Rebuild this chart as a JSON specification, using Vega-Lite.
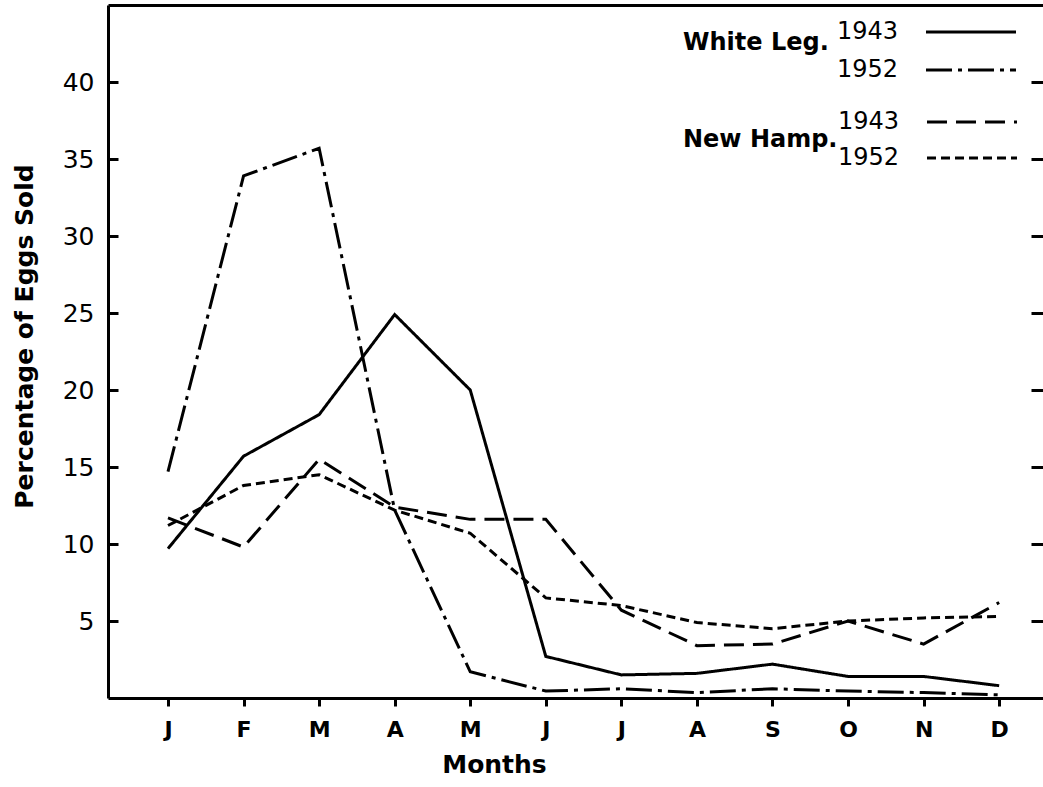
{
  "$schema": "https://vega.github.io/schema/vega-lite/v6.json",
  "width": 935,
  "height": 693,
  "autosize": {"type": "none"},
  "padding": {"left": 108, "top": 5, "right": 0, "bottom": 89},
  "background": "white",
  "config": {
    "view": {"stroke": null},
    "font": "DejaVu Sans",
    "axis": {"grid": false, "domainColor": "black", "tickColor": "black", "labelColor": "black", "titleColor": "black", "domainWidth": 3, "tickWidth": 3}
  },
  "data": {
    "values": [
      {"breed": "White Leg.", "year": "1943", "m": 0, "pct": 9.7},
      {"breed": "White Leg.", "year": "1943", "m": 1, "pct": 15.7},
      {"breed": "White Leg.", "year": "1943", "m": 2, "pct": 18.4},
      {"breed": "White Leg.", "year": "1943", "m": 3, "pct": 24.9},
      {"breed": "White Leg.", "year": "1943", "m": 4, "pct": 20.0},
      {"breed": "White Leg.", "year": "1943", "m": 5, "pct": 2.7},
      {"breed": "White Leg.", "year": "1943", "m": 6, "pct": 1.5},
      {"breed": "White Leg.", "year": "1943", "m": 7, "pct": 1.6},
      {"breed": "White Leg.", "year": "1943", "m": 8, "pct": 2.2},
      {"breed": "White Leg.", "year": "1943", "m": 9, "pct": 1.4},
      {"breed": "White Leg.", "year": "1943", "m": 10, "pct": 1.4},
      {"breed": "White Leg.", "year": "1943", "m": 11, "pct": 0.8},
      {"breed": "White Leg.", "year": "1952", "m": 0, "pct": 14.7},
      {"breed": "White Leg.", "year": "1952", "m": 1, "pct": 33.9},
      {"breed": "White Leg.", "year": "1952", "m": 2, "pct": 35.7},
      {"breed": "White Leg.", "year": "1952", "m": 3, "pct": 12.2},
      {"breed": "White Leg.", "year": "1952", "m": 4, "pct": 1.7},
      {"breed": "White Leg.", "year": "1952", "m": 5, "pct": 0.45},
      {"breed": "White Leg.", "year": "1952", "m": 6, "pct": 0.6},
      {"breed": "White Leg.", "year": "1952", "m": 7, "pct": 0.35},
      {"breed": "White Leg.", "year": "1952", "m": 8, "pct": 0.6},
      {"breed": "White Leg.", "year": "1952", "m": 9, "pct": 0.45},
      {"breed": "White Leg.", "year": "1952", "m": 10, "pct": 0.35},
      {"breed": "White Leg.", "year": "1952", "m": 11, "pct": 0.2},
      {"breed": "New Hamp.", "year": "1943", "m": 0, "pct": 11.7},
      {"breed": "New Hamp.", "year": "1943", "m": 1, "pct": 9.8},
      {"breed": "New Hamp.", "year": "1943", "m": 2, "pct": 15.5},
      {"breed": "New Hamp.", "year": "1943", "m": 3, "pct": 12.4},
      {"breed": "New Hamp.", "year": "1943", "m": 4, "pct": 11.6},
      {"breed": "New Hamp.", "year": "1943", "m": 5, "pct": 11.6},
      {"breed": "New Hamp.", "year": "1943", "m": 6, "pct": 5.7},
      {"breed": "New Hamp.", "year": "1943", "m": 7, "pct": 3.4},
      {"breed": "New Hamp.", "year": "1943", "m": 8, "pct": 3.5},
      {"breed": "New Hamp.", "year": "1943", "m": 9, "pct": 5.0},
      {"breed": "New Hamp.", "year": "1943", "m": 10, "pct": 3.5},
      {"breed": "New Hamp.", "year": "1943", "m": 11, "pct": 6.2},
      {"breed": "New Hamp.", "year": "1952", "m": 0, "pct": 11.2},
      {"breed": "New Hamp.", "year": "1952", "m": 1, "pct": 13.8},
      {"breed": "New Hamp.", "year": "1952", "m": 2, "pct": 14.5},
      {"breed": "New Hamp.", "year": "1952", "m": 3, "pct": 12.2},
      {"breed": "New Hamp.", "year": "1952", "m": 4, "pct": 10.7},
      {"breed": "New Hamp.", "year": "1952", "m": 5, "pct": 6.5},
      {"breed": "New Hamp.", "year": "1952", "m": 6, "pct": 6.0},
      {"breed": "New Hamp.", "year": "1952", "m": 7, "pct": 4.9},
      {"breed": "New Hamp.", "year": "1952", "m": 8, "pct": 4.5},
      {"breed": "New Hamp.", "year": "1952", "m": 9, "pct": 5.0},
      {"breed": "New Hamp.", "year": "1952", "m": 10, "pct": 5.2},
      {"breed": "New Hamp.", "year": "1952", "m": 11, "pct": 5.3}
    ]
  },
  "layer": [
    {
      "transform": [{"filter": "datum.breed === 'White Leg.'"}],
      "mark": {"type": "line", "stroke": "black", "strokeWidth": 3},
      "encoding": {
        "x": {
          "field": "m", "type": "quantitative",
          "scale": {"domain": [-0.794, 11.58], "nice": false, "zero": false},
          "axis": {
            "orient": "bottom", "values": [0, 1, 2, 3, 4, 5, 6, 7, 8, 9, 10, 11],
            "labelExpr": "['J','F','M','A','M','J','J','A','S','O','N','D'][datum.value]",
            "tickSize": 8, "labelFontSize": 22, "labelFontWeight": "bold", "labelPadding": 13, "labelFlush": false,
            "title": "Months", "titleFontSize": 25, "titleFontWeight": "bold", "titlePadding": 12, "titleX": 386
          }
        },
        "y": {
          "field": "pct", "type": "quantitative",
          "scale": {"domain": [0, 45], "nice": false},
          "axis": {
            "orient": "left", "values": [5, 10, 15, 20, 25, 30, 35, 40],
            "tickSize": -10, "labelPadding": 24, "labelFontSize": 25,
            "title": "Percentage of Eggs Sold", "titleFontSize": 25, "titleFontWeight": "bold",
            "titleX": -84, "titleY": 331, "titleBaseline": "middle"
          }
        },
        "strokeDash": {
          "field": "year", "type": "nominal",
          "scale": {"domain": ["1943", "1952"], "range": [[1, 0], [26, 6, 4, 6]]},
          "legend": {
            "title": ["White Leg.", ""], "orient": "none", "legendX": 575, "legendY": 15, "direction": "vertical",
            "titleOrient": "left", "titleAnchor": "middle", "titleLineHeight": 16, "titleFontSize": 24, "titleFontWeight": "bold", "titleColor": "black", "titlePadding": 130,
            "symbolType": "M-4.5,0H4.5", "symbolSize": 400, "symbolStrokeWidth": 3, "symbolStrokeColor": "black",
            "labelFontSize": 24, "labelColor": "black", "labelAlign": "right", "labelOffset": -85, "rowPadding": 14
          }
        }
      }
    },
    {
      "transform": [{"filter": "datum.breed === 'New Hamp.'"}],
      "mark": {"type": "line", "stroke": "black", "strokeWidth": 3},
      "encoding": {
        "x": {
          "field": "m", "type": "quantitative",
          "axis": {"orient": "top", "labels": false, "ticks": false, "title": null}
        },
        "y": {
          "field": "pct", "type": "quantitative",
          "axis": {"orient": "right", "values": [5, 10, 15, 20, 25, 30, 35, 40], "labels": false, "domain": false, "tickSize": -12, "title": null}
        },
        "strokeDash": {
          "field": "year", "type": "nominal",
          "scale": {"domain": ["1943", "1952"], "range": [[20, 9], [9, 5]]},
          "legend": {
            "title": "New Hamp.", "orient": "none", "legendX": 575, "legendY": 105, "direction": "vertical",
            "titleOrient": "left", "titleAnchor": "middle", "titleFontSize": 24, "titleFontWeight": "bold", "titleColor": "black", "titlePadding": 122,
            "symbolType": "M-4.5,0H4.5", "symbolSize": 400, "symbolStrokeWidth": 3, "symbolStrokeColor": "black",
            "labelFontSize": 24, "labelColor": "black", "labelAlign": "right", "labelOffset": -85, "rowPadding": 12
          }
        }
      }
    }
  ],
  "resolve": {
    "scale": {"strokeDash": "independent"},
    "axis": {"x": "independent", "y": "independent"},
    "legend": {"strokeDash": "independent"}
  }
}
